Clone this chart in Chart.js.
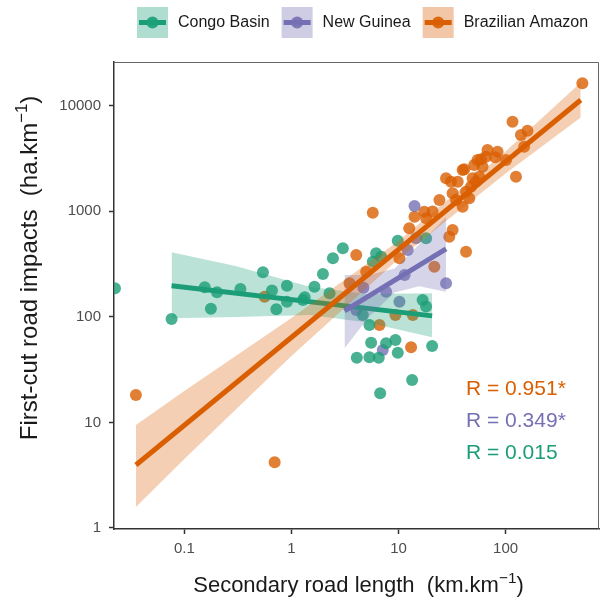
<!DOCTYPE html>
<html>
<head>
<meta charset="utf-8">
<script src="https://cdn.jsdelivr.net/npm/chart.js@4.4.1/dist/chart.umd.min.js"></script>
<style>
  html, body { margin: 0; padding: 0; background: #fff; }
  canvas { display: block; }
</style>
</head>
<body>
<canvas id="roadChart" width="605" height="601"></canvas>
<script>
// regions, in drawing order
const regions = ['Congo Basin', 'New Guinea', 'Brazilian Amazon'];
const regionColors = ['#1b9e77', '#7570b3', '#d95f02'];
const rLabels = ['R = 0.015', 'R = 0.349*', 'R = 0.951*'];

// axis ticks
const xTickValues = [0.1, 1, 10, 100];
const xTickLabels = ['0.1', '1', '10', '100'];
const yTickValues = [1, 10, 100, 1000, 10000];
const yTickLabels = ['1', '10', '100', '1000', '10000'];

// observations: secondary road length (x) vs first-cut impacts (y)
const congoX = [0.0225, 0.076, 0.155, 0.202, 0.177, 0.334, 0.542, 0.658, 0.723, 0.908, 0.908, 1.33,
  2.44, 3.02, 1.97, 1.64, 1.28, 2.27, 6.18, 6.89, 5.75, 9.84, 18.1, 16.8, 18.1, 5.35, 5.55, 7.66,
  9.36, 9.84, 4.08, 5.35, 6.54, 20.6, 13.4, 6.74, 4.64];
const congoY = [186, 95.3, 190, 171, 119, 183, 264, 177, 118, 197, 139, 153,
  358, 445, 254, 193, 144, 167, 399, 371, 333, 526, 554, 144, 125, 83.6, 56.9, 56.1,
  60.3, 45.7, 41, 41.3, 41, 52.9, 25.2, 18.9, 104];

const ngX = [14.1, 27.8, 11.4, 7.66, 10.2, 12.2, 14.6, 7.13, 4.03, 4.7];
const ngY = [1120, 208, 249, 173, 139, 429, 554, 48.5, 116, 188];

const amazonX = [0.0353, 0.697, 0.562, 4.03, 10.2, 21.6, 29.8, 42.7, 6.64, 9.36, 13.6, 13.1,
  4.99, 3.49, 5.75, 12.6, 14.1, 18.1, 24.1, 20.8, 27.8, 30.9, 35.7, 39.7, 32, 34.4, 39.7, 45.8,
  50.9, 52.8, 32, 17.4, 521, 116, 139, 160, 149, 125, 84.1, 80, 67.8, 65.5, 58.9, 101, 60.9,
  41.1, 56.8, 49.2, 42.7, 47.5, 54.7];
const amazonY = [18.2, 4.19, 155, 385, 358, 298, 574, 414, 83.6, 104, 104, 51.4,
  267, 208, 968, 689, 887, 857, 1276, 991, 2049, 1900, 1900, 2455, 1476, 1276, 1104, 1324,
  2740, 1900, 664, 989, 16250, 7040, 5270, 5790, 4080, 2120, 3660, 3240, 3800, 3280, 3100, 3050, 2640,
  2500, 2120, 2050, 1530, 1706, 3050];

// fitted lines (log-log) and their confidence bands
const congoLineX = [0.076, 20.6];
const congoLineY = [197, 102];
const congoBandX = [0.076, 0.3, 1.48, 5, 20.6];
const congoBandHi = [408, 303, 193, 164, 167];
const congoBandLo = [96.8, 99.6, 104, 89, 64];

const ngLineX = [3.13, 27.8];
const ngLineY = [113.5, 439];
const ngBandX = [3.13, 5.33, 9.2, 15.6, 27.8];
const ngBandHi = [249, 249, 287, 484, 881];
const ngBandLo = [50.3, 100.5, 170, 195, 173];

const amazonLineX = [0.0353, 503];
const amazonLineY = [3.95, 11300];
const amazonBandX = [0.0353, 0.1, 1, 10, 100, 503];
const amazonBandHi = [9.45, 19.8, 97.4, 522, 3675, 16550];
const amazonBandLo = [1.58, 4.5, 42.5, 352, 2275, 7710];

const FONT = '"Liberation Sans", Arial, Helvetica, sans-serif';

function pts(xs, ys) {
  return xs.map((x, i) => ({ x: x, y: ys[i] }));
}
function rgba(hex, a) {
  const n = parseInt(hex.slice(1), 16);
  return `rgba(${(n >> 16) & 255}, ${(n >> 8) & 255}, ${n & 255}, ${a})`;
}

const pointSets = [[congoX, congoY], [ngX, ngY], [amazonX, amazonY]];
const lineSets = [[congoLineX, congoLineY], [ngLineX, ngLineY], [amazonLineX, amazonLineY]];
const bandSets = [
  [congoBandX, congoBandHi, congoBandLo],
  [ngBandX, ngBandHi, ngBandLo],
  [amazonBandX, amazonBandHi, amazonBandLo]
];

const datasets = [];
regions.forEach((name, i) => {
  datasets.push({
    type: 'scatter',
    label: name,
    data: pts(pointSets[i][0], pointSets[i][1]),
    backgroundColor: rgba(regionColors[i], 0.8),
    borderWidth: 0,
    pointRadius: 6,
    clip: 0,
    order: 20
  });
});
regions.forEach((name, i) => {
  const [bx, hi, lo] = bandSets[i];
  const base = 10 - i * 3;
  datasets.push({
    type: 'line',
    label: name + ' band hi',
    data: pts(bx, hi),
    borderWidth: 0,
    borderColor: 'transparent',
    pointRadius: 0,
    fill: false,
    order: base
  });
  datasets.push({
    type: 'line',
    label: name + ' band lo',
    data: pts(bx, lo),
    borderWidth: 0,
    borderColor: 'transparent',
    backgroundColor: rgba(regionColors[i], 0.3),
    pointRadius: 0,
    fill: '-1',
    order: base
  });
  datasets.push({
    type: 'line',
    label: name + ' fit',
    data: pts(lineSets[i][0], lineSets[i][1]),
    borderColor: regionColors[i],
    borderWidth: 5,
    borderCapStyle: 'butt',
    pointRadius: 0,
    fill: false,
    order: base - 1
  });
});

function supText(ctx, main, sup, tail, cx, baseline, size) {
  ctx.font = `${size}px ${FONT}`;
  const w1 = ctx.measureText(main).width;
  const w3 = ctx.measureText(tail).width;
  ctx.font = `${size * 0.7}px ${FONT}`;
  const w2 = ctx.measureText(sup).width;
  let x = cx - (w1 + w2 + w3) / 2;
  ctx.textAlign = 'left';
  ctx.textBaseline = 'alphabetic';
  ctx.font = `${size}px ${FONT}`;
  ctx.fillText(main, x, baseline);
  x += w1;
  ctx.font = `${size * 0.7}px ${FONT}`;
  ctx.fillText(sup, x, baseline - size * 0.42);
  x += w2;
  ctx.font = `${size}px ${FONT}`;
  ctx.fillText(tail, x, baseline);
}

const decor = {
  id: 'decor',
  afterDraw(chart) {
    const ctx = chart.ctx;
    const a = chart.chartArea;
    ctx.save();
    // panel border (top / right)
    ctx.strokeStyle = '#666';
    ctx.lineWidth = 1;
    ctx.beginPath();
    ctx.moveTo(a.left, a.top + 0.5);
    ctx.lineTo(a.right - 0.5, a.top + 0.5);
    ctx.lineTo(a.right - 0.5, a.bottom);
    ctx.stroke();

    // axis titles
    ctx.fillStyle = '#1a1a1a';
    supText(ctx, 'Secondary road length  (km.km', '\u22121', ')', (a.left + a.right) / 2 + 2, 592, 22);
    ctx.save();
    ctx.translate(37, 268);
    ctx.rotate(-Math.PI / 2);
    supText(ctx, 'First-cut road impacts  (ha.km', '\u22121', ')', 0, 0, 24);
    ctx.restore();

    // correlation labels
    ctx.font = `21px ${FONT}`;
    ctx.textAlign = 'left';
    ctx.textBaseline = 'middle';
    [2, 1, 0].forEach((k, row) => {
      ctx.fillStyle = regionColors[k];
      ctx.fillText(rLabels[k], 466, 389 + row * 32);
    });

    // legend
    let x = 137;
    const top = 7, size = 31;
    ctx.font = `16px ${FONT}`;
    regions.forEach((name, i) => {
      ctx.fillStyle = rgba(regionColors[i], 0.35);
      ctx.fillRect(x, top, size, size);
      ctx.strokeStyle = regionColors[i];
      ctx.lineWidth = 5;
      ctx.beginPath();
      ctx.moveTo(x + 2, top + size / 2);
      ctx.lineTo(x + size - 2, top + size / 2);
      ctx.stroke();
      ctx.fillStyle = rgba(regionColors[i], 0.9);
      ctx.beginPath();
      ctx.arc(x + size / 2, top + size / 2, 6, 0, Math.PI * 2);
      ctx.fill();
      ctx.fillStyle = '#1a1a1a';
      ctx.textAlign = 'left';
      ctx.textBaseline = 'middle';
      ctx.fillText(name, x + size + 10, top + size / 2);
      x += size + 10 + ctx.measureText(name).width + 12;
    });
    ctx.restore();
  }
};

new Chart(document.getElementById('roadChart').getContext('2d'), {
  type: 'scatter',
  data: { datasets: datasets },
  options: {
    responsive: false,
    animation: false,
    events: [],
    layout: { padding: { top: 62, right: 5, left: 0, bottom: 0 } },
    plugins: {
      legend: { display: false },
      tooltip: { enabled: false }
    },
    scales: {
      x: {
        type: 'logarithmic',
        min: 0.02204,
        max: 745,
        afterBuildTicks: s => { s.ticks = xTickValues.map(v => ({ value: v })); },
        afterFit: s => { s.height = 72; },
        ticks: {
          callback: (v, i) => xTickLabels[i],
          color: '#4d4d4d',
          font: { size: 15, family: FONT },
          padding: 6,
          maxRotation: 0,
          autoSkip: false
        },
        grid: { drawOnChartArea: false, tickLength: 5, tickWidth: 1.5, color: '#333' },
        border: { color: '#333', width: 1.5 }
      },
      y: {
        type: 'logarithmic',
        min: 0.978,
        max: 25880,
        afterBuildTicks: s => { s.ticks = yTickValues.map(v => ({ value: v })); },
        afterFit: s => { s.width = 114; },
        ticks: {
          callback: (v, i) => yTickLabels[i],
          color: '#4d4d4d',
          font: { size: 15, family: FONT },
          padding: 8,
          autoSkip: false
        },
        grid: { drawOnChartArea: false, tickLength: 5, tickWidth: 1.5, color: '#333' },
        border: { color: '#333', width: 1.5 }
      }
    }
  },
  plugins: [decor]
});
</script>
</body>
</html>
